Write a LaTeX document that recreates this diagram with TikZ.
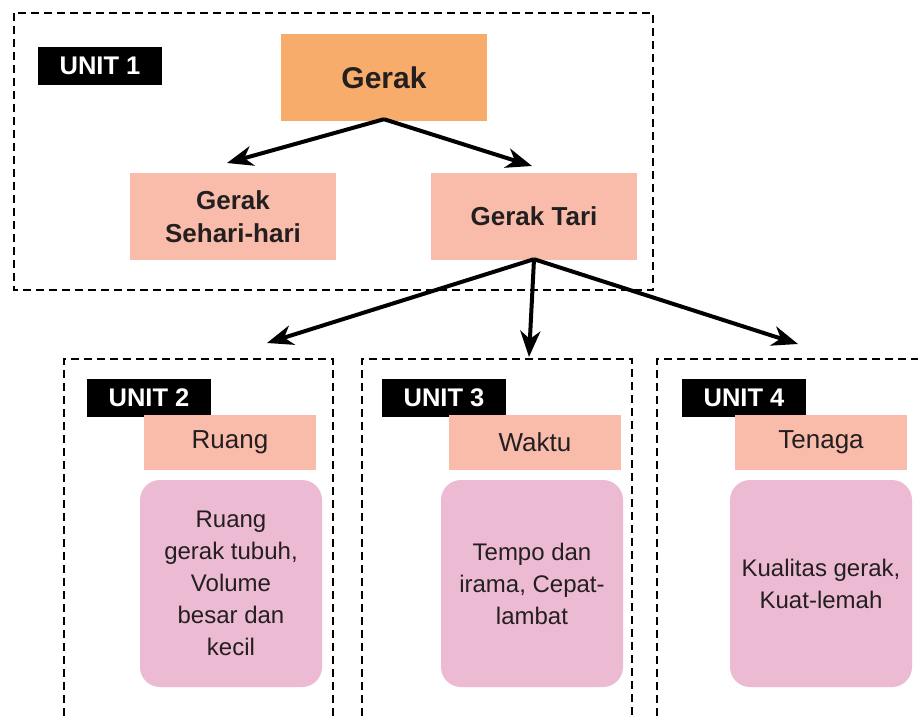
\documentclass[tikz,border=0pt]{standalone}
\usepackage{fontspec}
\setmainfont{Liberation Sans}
\usetikzlibrary{arrows.meta}
\definecolor{oranye}{RGB}{248, 172, 108}
\definecolor{salem}{RGB}{249, 187, 170}
\definecolor{merahmuda}{RGB}{237, 186, 212}
\definecolor{tinta}{RGB}{35, 31, 32}

\tikzset{
    bingkai/.style={black, line width=2pt, dash pattern=on 8pt off 5pt},
    label unit/.style={fill=black, text=white, font=\fontsize{25.5}{28}\selectfont\bfseries,
        minimum width=124pt, minimum height=38pt, inner sep=0pt},
    kotak/.style={fill=salem, text=tinta, minimum width=206pt, minimum height=87pt,
        inner sep=0pt, align=center, font=\fontsize{26}{33}\selectfont\bfseries},
    judul/.style={fill=salem, text=tinta, minimum width=172pt, minimum height=55pt,
        inner sep=0pt, font=\fontsize{26}{28}\selectfont},
    isi/.style={fill=merahmuda, text=tinta, rounded corners=20pt, minimum width=182pt,
        minimum height=207pt, inner sep=0pt, align=center, font=\fontsize{24}{32}\selectfont},
    panah/.style={line width=4pt, -{Stealth[length=26pt,width=20pt,inset=8pt]}}
}

\begin{document}
\begin{tikzpicture}[x=1pt, y=-1pt]
    % Latar dan batas gambar
    \useasboundingbox[fill=white] (0,0) rectangle (918,716);

    % Bingkai unit
    \draw[bingkai] (14,13) rectangle (653,290);
    \draw[bingkai] (64,716) -- (64,359) -- (333,359) -- (333,716);
    \draw[bingkai] (362,716) -- (362,359) -- (632,359) -- (632,716);
    \draw[bingkai] (657,716) -- (657,359) -- (918,359);

    % Unit 1
    \node[label unit] (unit1) at (100,66) {UNIT 1};
    \node[kotak, fill=oranye, font=\fontsize{30}{33}\selectfont\bfseries] (gerak) at (384,77.5) {Gerak};
    \node[kotak] (sehari) at (233,216.5) {Gerak\\Sehari-hari};
    \node[kotak] (tari) at (534,216.5) {Gerak Tari};

    % Unit 2
    \node[label unit] (unit2) at (149,398) {UNIT 2};
    \node[judul] (ruang) at (230,442.5) {Ruang};
    \node[isi] (ruangisi) at (231,583.5) {Ruang\\gerak tubuh,\\Volume\\besar dan\\kecil};

    % Unit 3
    \node[label unit] (unit3) at (444,398) {UNIT 3};
    \node[judul] (waktu) at (535,442.5) {Waktu};
    \node[isi] (waktuisi) at (532,583.5) {Tempo dan\\irama, Cepat-\\lambat};

    % Unit 4
    \node[label unit] (unit4) at (744,398) {UNIT 4};
    \node[judul] (tenaga) at (821,442.5) {Tenaga};
    \node[isi] (tenagaisi) at (821,583.5) {Kualitas gerak,\\Kuat-lemah};

    % Ujung panah
    \coordinate (ke sehari) at (227,163);
    \coordinate (ke tari) at (532,166);
    \coordinate (ke unit2) at (267,343);
    \coordinate (ke unit3) at (529,357);
    \coordinate (ke unit4) at (798,344);

    % Panah
    \draw[panah] ([yshift=2pt]gerak.south) -- (ke sehari);
    \draw[panah] ([yshift=2pt]gerak.south) -- (ke tari);
    \draw[panah] ([yshift=1pt]tari.south) -- (ke unit2);
    \draw[panah] ([yshift=1pt]tari.south) -- (ke unit3);
    \draw[panah] ([yshift=1pt]tari.south) -- (ke unit4);
\end{tikzpicture}
\end{document}
